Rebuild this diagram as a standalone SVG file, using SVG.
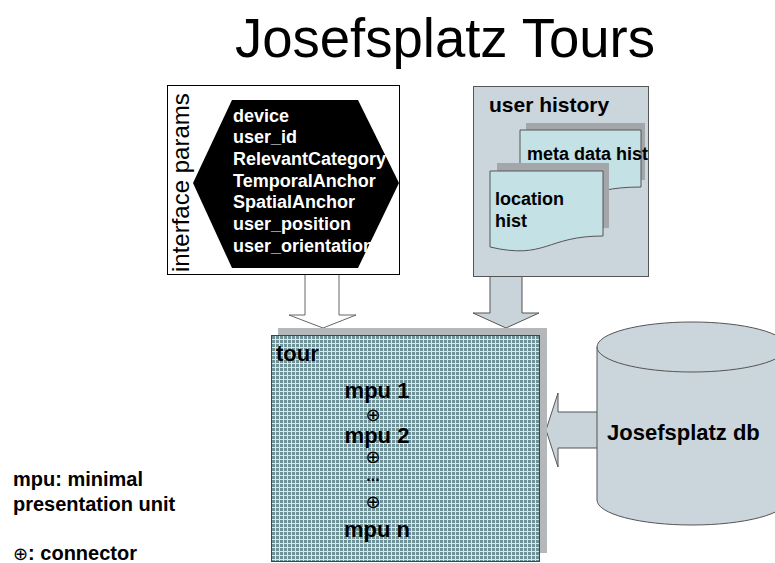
<svg xmlns="http://www.w3.org/2000/svg" width="775" height="563" viewBox="0 0 775 563">
<style>
.b{font-family:"Liberation Sans",Arial,sans-serif;font-weight:bold;fill:#000}
.w{font-family:"Liberation Sans",Arial,sans-serif;font-weight:bold;fill:#fff;font-size:18px}
.sym{font-family:"DejaVu Sans",sans-serif;fill:#000}
.arrowG{fill:#c9d4da;stroke:#555;stroke-width:1}
.doc{fill:#c4e2e5;stroke:#555;stroke-width:1}
.shadow{fill:#a3a7aa}
</style>
<defs>
<pattern id="grid" width="4" height="4" patternUnits="userSpaceOnUse">
<rect width="4" height="4" fill="#dbe6e8"/>
<rect width="3" height="3" fill="#6f9298"/>
</pattern>
</defs>
<rect width="775" height="563" fill="#fff"/>
<g id="title">
<text x="235" y="57" font-family="'Liberation Sans',Arial,sans-serif" font-size="55" textLength="420" lengthAdjust="spacingAndGlyphs">Josefsplatz Tours</text>
</g>
<g id="connectors">
<polygon points="305,274 339,274 339,315 356,315 323,328 289,315 305,315" fill="#fff" stroke="#666" stroke-width="1"/>
<polygon class="arrowG" points="490,276 522,276 522,313 539,313 506,328 473,313 490,313"/>
<polygon class="arrowG" points="600,412 558,412 558,393 546,430 558,467 558,448 600,448"/>
</g>
<g id="interface-params">
<rect x="167.5" y="85.5" width="232" height="189" fill="#fff" stroke="#000" stroke-width="1"/>
<text transform="translate(189,272) rotate(-90)" font-family="'Liberation Sans',Arial,sans-serif" font-size="24">interface params</text>
<polygon points="193,183 232,100 358,100 399,183 358,268 232,268" fill="#000"/>
<text class="w" x="233" y="122">device</text>
<text class="w" x="233" y="143">user_id</text>
<text class="w" x="233" y="165">RelevantCategory</text>
<text class="w" x="233" y="187">TemporalAnchor</text>
<text class="w" x="233" y="208">SpatialAnchor</text>
<text class="w" x="233" y="230">user_position</text>
<text class="w" x="233" y="252">user_orientation</text>
</g>
<g id="user-history">
<rect x="473.5" y="86.5" width="175" height="190" fill="#cbd5dc" stroke="#555" stroke-width="1"/>
<text class="b" x="489" y="112" font-size="21">user history</text>
<path class="shadow" d="M526,123 H645 V180 C585,180 585,202 526,194 Z"/>
<path class="doc" d="M520,130 H641 V187 C580,187 580,209 520,196 Z"/>
<text class="b" x="527" y="160" font-size="18">meta data hist</text>
<path class="shadow" d="M497,163 H609 V228 C553,228 553,252 497,240 Z"/>
<path class="doc" d="M490,171 H603 V236 C546,236 546,260 490,247 Z"/>
<text class="b" x="495" y="205" font-size="18">location</text>
<text class="b" x="495" y="227" font-size="18">hist</text>
</g>
<g id="tour">
<rect x="278" y="328" width="269" height="225" fill="#b5b8ba"/>
<rect x="271.5" y="335.5" width="268" height="226" fill="url(#grid)" stroke="#444" stroke-width="1"/>
<text class="b" x="276" y="361" font-size="22">tour</text>
<text class="b" x="377" y="398" font-size="22" text-anchor="middle">mpu 1</text>
<text class="sym" x="373" y="421" font-size="18" text-anchor="middle">⊕</text>
<text class="b" x="377" y="443" font-size="22" text-anchor="middle">mpu 2</text>
<text class="sym" x="373" y="463" font-size="18" text-anchor="middle">⊕</text>
<text class="b" x="373" y="481" font-size="16" text-anchor="middle">...</text>
<text class="sym" x="373" y="508" font-size="18" text-anchor="middle">⊕</text>
<text class="b" x="377" y="537" font-size="22" text-anchor="middle">mpu n</text>
</g>
<g id="josefsplatz-db">
<path d="M597,347 V500 A95,25 0 0 0 787,500 V347 Z" fill="#cbd5dc" stroke="#555" stroke-width="1"/>
<ellipse cx="692" cy="347" rx="95" ry="25" fill="#cbd5dc" stroke="#555" stroke-width="1"/>
<text class="b" x="607" y="440" font-size="22">Josefsplatz db</text>
</g>
<g id="legend">
<text class="b" x="13" y="486" font-size="20">mpu: minimal</text>
<text class="b" x="13" y="511" font-size="20">presentation unit</text>
<text x="13" y="560"><tspan class="sym" font-size="18">⊕</tspan><tspan class="b" font-size="20">: connector</tspan></text>
</g>
</svg>
